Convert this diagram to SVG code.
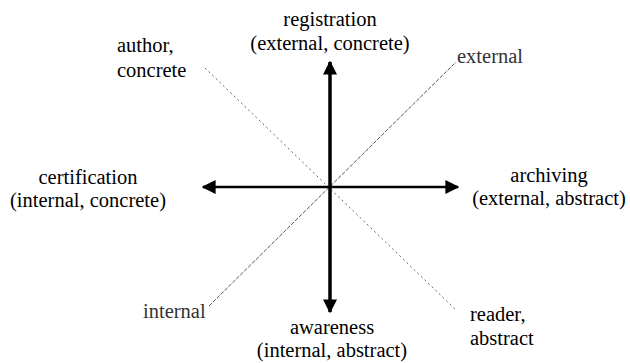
<svg xmlns="http://www.w3.org/2000/svg" width="630" height="363" viewBox="0 0 630 363">
<style>
text{font-family:'Liberation Serif','Times New Roman','DejaVu Serif',serif;font-size:20.5px;fill:#000}
.m{text-anchor:middle}
.light{fill:#333}
.ax{stroke:#000;fill:none}
.d1{stroke:#666;stroke-width:1;stroke-dasharray:2 3;fill:none}
.d2{stroke:#555;stroke-width:1;stroke-dasharray:4 1.5;fill:none}
</style>
<defs>
<marker id="ah" viewBox="0 0 10 10" refX="9" refY="5" markerWidth="14" markerHeight="14" markerUnits="userSpaceOnUse" orient="auto-start-reverse">
<path d="M0,0 L10,5 L0,10 z" fill="#000"/>
</marker>
</defs>
<g id="connectors">
<line class="d1" x1="205" y1="68" x2="456" y2="310"/>
<line class="d2" x1="209" y1="306" x2="456" y2="62"/>
<line class="ax" x1="330" y1="62" x2="330" y2="312" stroke-width="3.5" marker-start="url(#ah)" marker-end="url(#ah)"/>
<line class="ax" x1="203" y1="187" x2="458" y2="187" stroke-width="2.5" marker-start="url(#ah)" marker-end="url(#ah)"/>
</g>
<g font-family="Liberation Serif, serif">
<g id="registration"><text class="m" x="330" y="26">registration</text><text class="m" x="330" y="50">(external, concrete)</text></g>
<g id="author"><text x="117" y="52">author,</text><text x="117" y="77">concrete</text></g>
<g id="external"><text class="light" x="457" y="63">external</text></g>
<g id="certification"><text class="m" x="88" y="184">certification</text><text class="m" x="88" y="207">(internal, concrete)</text></g>
<g id="archiving"><text class="m" x="549" y="182">archiving</text><text class="m" x="549" y="205">(external, abstract)</text></g>
<g id="internal"><text class="light" x="143" y="318">internal</text></g>
<g id="awareness"><text class="m" x="332" y="334">awareness</text><text class="m" x="332" y="357">(internal, abstract)</text></g>
<g id="reader"><text x="470" y="321">reader,</text><text x="470" y="345">abstract</text></g>
</g>
</svg>
